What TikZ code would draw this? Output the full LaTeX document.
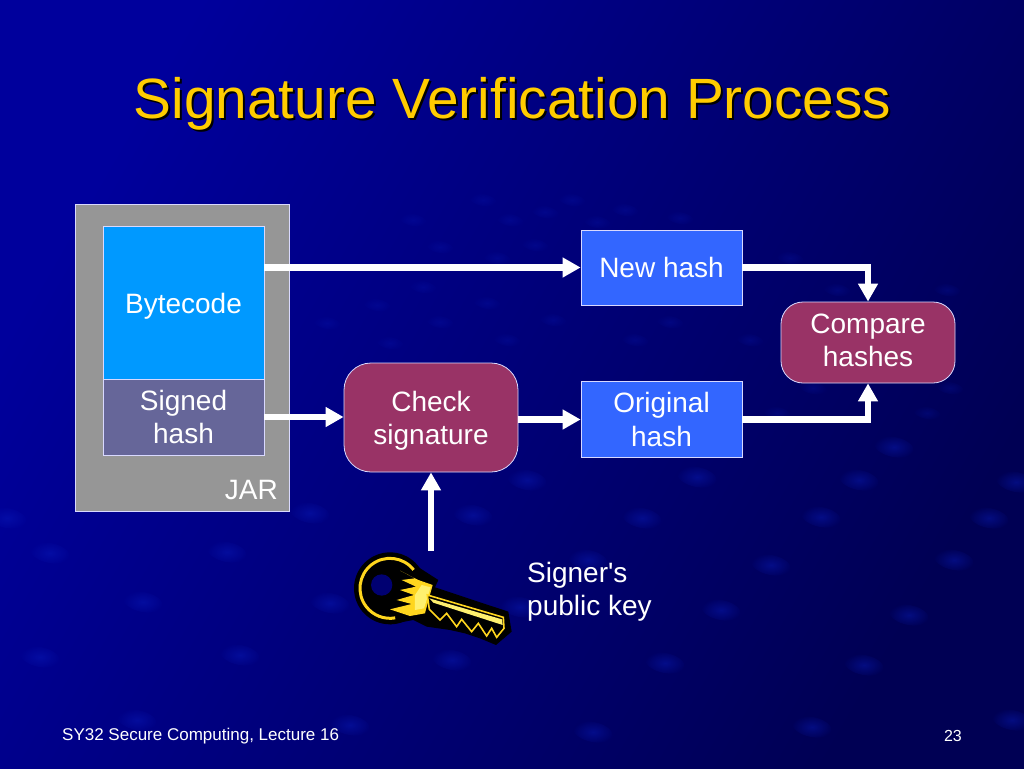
\documentclass[tikz,border=0pt]{standalone}
\usepackage{fontspec}
\setmainfont{Liberation Sans}
\newfontfamily\plainsans{Liberation Sans}
\usetikzlibrary{arrows.meta,fadings,calc}
\tikzfading[name=blobfade,inner color=transparent!0,outer color=transparent!100]
\definecolor{bgA}{RGB}{0,0,156}
\definecolor{bgB}{RGB}{0,0,84}
\definecolor{blobc}{RGB}{10,30,190}
\definecolor{jargray}{RGB}{150,150,150}
\definecolor{bytec}{RGB}{0,153,255}
\definecolor{signc}{RGB}{102,102,153}
\definecolor{hashc}{RGB}{51,102,255}
\definecolor{wine}{RGB}{153,51,102}
\definecolor{titlec}{RGB}{255,204,0}
\definecolor{keyy}{RGB}{255,214,30}
\definecolor{keyl}{RGB}{255,240,110}
% extends the box upward, which lowers the text by half that amount inside its node
\newcommand{\shifted}[2]{\raisebox{0pt}[\dimexpr\height+#1\relax][\depth]{\begin{tabular}{@{}c@{}}#2\end{tabular}}}
\tikzset{
  edgeline/.style={draw=white!85!blue,line width=.8pt},
  lab/.style={text=white,font=\fontsize{28}{33.5}\selectfont,align=center,inner sep=0pt},
  flatbox/.style={edgeline,lab,rectangle},
  roundbox/.style={edgeline,lab,rectangle,rounded corners=22pt,fill=wine},
  flow/.style={draw=white,line width=6.5pt,-{Triangle[length=18pt,width=19pt]}},
  blob/.style={fill=blobc,opacity=.42,path fading=blobfade},
  speck/.style={fill=blobc,opacity=.22,path fading=blobfade},
  titletext/.style={font=\fontsize{56.8}{62}\selectfont,inner sep=0pt},
  foot/.style={text=white,inner sep=0pt},
}
\begin{document}
\begin{tikzpicture}[x=1pt,y=-1pt]
\useasboundingbox (0,0) rectangle (1024,768);
\shade[left color=bgA,right color=bgB,shading angle=60] (0,0) rectangle (1024,768);
\foreach \x/\y in {7/518,50/553,227/552,143/602,40/657,240/655,137/720,310/513,330/603,350/725,697/477,859/480,894/447,1016/482,821/517,989/518,771/565,954/560,721/610,909/615,864/665,812/727,1012/720,665/663,527/480,473/515,642/518,588/560,452/660,593/732,520/607}{
  \fill[blob,rotate around={-12:(\x,\y)}] (\x,\y) ellipse (20 and 10);
}
\foreach \x/\y in {572/200,545/212,510/220,625/210,680/218,597/222,535/245,440/247,413/220,483/200,423/287,497/258,487/303,377/305,440/322,553/320,327/323,507/340,390/343,635/340,670/322,750/340,790/258,837/290,947/290,813/388,950/388,777/413,927/413}{
  \fill[speck,rotate around={-12:(\x,\y)}] (\x,\y) ellipse (14 and 6);
}
% title
\node[text=black,titletext] at (514.5,106) {Signature Verification Process};
\node (title) [text=titlec,titletext] at (512.5,104) {Signature Verification Process};
% boxes
\node (jar) [edgeline,rectangle,fill=jargray,minimum width=214pt,minimum height=307pt,inner sep=0pt] at (182,357.5) {};
\node (jarlabel) [lab,anchor=east] at (278,490) {JAR};
\node (bytecode) [flatbox,fill=bytec,minimum width=161pt,minimum height=153pt] at (183.5,302.5) {\shifted{8pt}{Bytecode}};
\node (signed) [flatbox,fill=signc,minimum width=161pt,minimum height=76pt] at (183.5,417) {Signed\\hash};
\node (check) [roundbox,minimum width=174pt,minimum height=109pt,rounded corners=27pt] at (431,417.5) {\shifted{8pt}{Check\\signature}};
\node (newhash) [flatbox,fill=hashc,minimum width=161pt,minimum height=75pt] at (661.5,267.5) {New hash};
\node (orighash) [flatbox,fill=hashc,minimum width=161pt,minimum height=76pt] at (661.5,419.5) {Original\\hash};
\node (compare) [roundbox,minimum width=174pt,minimum height=81pt] at (868,342.5) {\shifted{2pt}{Compare\\hashes}};
\node (signer) [lab,align=left,anchor=west] at (527,592) {{\plainsans Signer's}\\public key};
\coordinate (keytop) at (431,551);
% connectors
\draw[flow] (newhash.west -| bytecode.east) -- (newhash.west);
\draw[flow] (signed.east) -- (signed.east -| check.west);
\draw[flow] (check.east |- orighash.west) -- (orighash.west);
\draw[flow] (keytop) -- (check.south);
\draw[flow] (newhash.east) -| (compare.north);
\draw[flow] (orighash.east) -| (compare.south);
% key, drawn in units of the 3x crop
\begin{scope}[shift={(340,530)},x=.3333pt,y=-.3333pt]
  \fill[black] (150,175) circle (108);
  \fill[black] (225,105) -- (295,150) -- (285,172) -- (505,245) -- (515,305) -- (468,345) -- (420,325) -- (375,310) -- (330,300) -- (260,290) -- (220,270) -- (150,283) -- cycle;
  \draw[keyy,line width=3pt] (150,175) ++(-38:90) arc[start angle=-38,end angle=-280,radius=90];
  \fill[bgB!60!bgA] (125,165) circle (32);
  \fill[keyy] (180,122) -- (235,150) -- (278,165) -- (258,238) -- (255,250) -- (210,258) -- (150,238) -- (215,222) -- (170,210) -- (222,195) -- (180,180) -- (228,170) -- (185,150) -- (225,145) -- cycle;
  \fill[keyl] (225,195) -- (245,165) -- (272,172) -- (252,235) -- (225,240) -- cycle;
  \draw[keyy,line width=1.6pt,line join=miter,fill=black] (262,195) -- (490,262) -- (492,295) -- (470,322) -- (455,295) -- (440,318) -- (415,280) -- (395,305) -- (365,268) -- (350,290) -- (320,250) -- (300,270) -- (268,238) -- cycle;
  \fill[keyl] (268,205) -- (486,268) -- (488,285) -- (280,218) -- cycle;
\end{scope}
% footer
\node (footer) [foot,font=\fontsize{17}{19}\selectfont,anchor=west] at (62,736) {SY32 Secure Computing, Lecture 16};
\node (pagenum) [foot,font=\fontsize{16}{18}\selectfont,anchor=east] at (962,736) {23};
\end{tikzpicture}
\end{document}
